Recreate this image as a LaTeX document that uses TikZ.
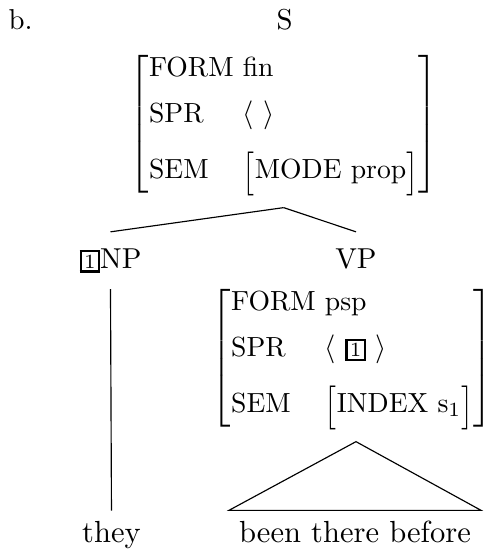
\documentclass[tikz,border=0pt]{standalone}
\usepackage{amsmath}
\usepackage{graphicx}
\usetikzlibrary{calc}
\newcommand{\tagbox}[1]{{\setlength{\fboxsep}{0.8pt}\setlength{\fboxrule}{0.8pt}\fbox{\scriptsize #1}}}
\newcommand{\tagone}{\tagbox{1}}
\newcommand{\ftr}[1]{\text{#1}}
\newcommand{\lbrk}{\mathopen{\raisebox{-1.5pt}{\scalebox{1}[1.27]{$\bigl[$}}}}
\newcommand{\rbrk}{\mathclose{\raisebox{-1.5pt}{\scalebox{1}[1.27]{$\bigr]$}}}}

\begin{document}
\begin{tikzpicture}[cat/.style={anchor=base,outer ysep=2.4pt},
  avm/.style={outer ysep=0.8pt,font=\fontsize{9.6}{11.5}\selectfont},
  leaf/.style={anchor=base,font=\fontsize{10.6}{13}\selectfont}]
  \useasboundingbox (-3.471,0.366) rectangle (2.458,-6.344);
  \node[anchor=base] (S) at (0,0) {S};
  \node[anchor=base west,inner sep=0pt] (ex) at ($(S.base)+(-3.373,0)$) {b.};
  \node[avm] (sAVM) at ($(S.base)+(-0.01,-1.153)$)
  {$\left[\begin{array}{@{}l@{\ }l@{}}
    \ftr{FORM} & \ftr{fin}\\[4.6pt]
    \ftr{SPR} & \langle\ \rangle\\[6.6pt]
    \ftr{SEM} & \lbrk\ftr{MODE prop}\rbrk
  \end{array}\right]$};
  \node[cat] (NP) at ($(S.base)+(-2.123,-2.904)$) {\tagone NP};
  \node[cat] (VP) at ($(S.base)+(0.872,-2.904)$) {VP};
  \node[avm] (vpAVM) at ($(VP.base)+(-0.045,-1.104)$)
  {$\left[\begin{array}{@{}l@{\ }l@{}}
    \ftr{FORM} & \ftr{psp}\\[4.6pt]
    \ftr{SPR} & \langle\ \tagone\ \rangle\\[6.6pt]
    \ftr{SEM} & \lbrk\ftr{INDEX s}_1\rbrk
  \end{array}\right]$};
  \node[leaf] (they) at ($(NP.base)+(0.012,-3.343)$) {they};
  \node[leaf] (bt) at ($(VP.base)+(-0.012,-3.343)$) {been there before};
  \path (sAVM.south) edge (NP.north);
  \path (sAVM.south) edge (VP.north);
  \path (NP.south) edge (they.north);
  \draw (vpAVM.south -| VP.base) -- (bt.north west) -- (bt.north east) -- cycle;
\end{tikzpicture}
\end{document}
